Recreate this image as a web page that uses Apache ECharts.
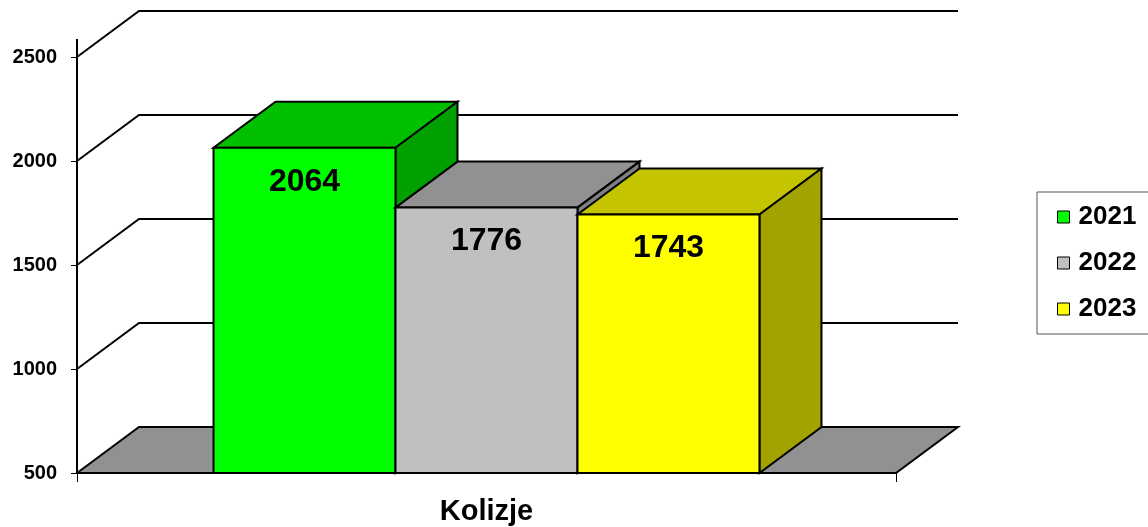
<!DOCTYPE html>
<html>
<head>
<meta charset="utf-8">
<script src="https://cdn.jsdelivr.net/npm/echarts@6/dist/echarts.min.js"></script>
<style>
  html, body { margin: 0; padding: 0; background: #fff; }
  #main { width: 1148px; height: 527px; }
</style>
</head>
<body>
<div id="main"></div>
<script>
// data
var categories = ['Kolizje'];
var years = ['2021', '2022', '2023'];
var values = [2064, 1776, 1743];
var yMin = 500, yMax = 2500, yStep = 500;
var wallTicks = [1000, 1500, 2000, 2500];

// faces: front / top / side
var faces = [
  { front: '#00ff00', top: '#00c000', side: '#00a000' },
  { front: '#c0c0c0', top: '#919191', side: '#808080' },
  { front: '#ffff00', top: '#c4c400', side: '#a3a300' }
];
var DX = 62, DY = -46;   // depth of the 3d box
var FONT = '"Liberation Sans", Arial, sans-serif';

var chart = echarts.init(document.getElementById('main'));

function frameItem(params, api) {
  var cs = params.coordSys;
  var xl = cs.x, xr = cs.x + cs.width;
  var yb = api.coord([0, yMin])[1];
  var kids = [];
  // floor
  kids.push({
    type: 'polygon',
    shape: { points: [[xl, yb], [xl + DX, yb + DY], [xr + DX, yb + DY], [xr, yb]] },
    style: { fill: '#919191', stroke: '#000', lineWidth: 2 }
  });
  // back wall grid lines
  wallTicks.forEach(function (t) {
    var y = api.coord([0, t])[1];
    kids.push({
      type: 'polyline',
      shape: { points: [[xl, y], [xl + DX, y + DY], [xr + DX, y + DY]] },
      style: { fill: null, stroke: '#000', lineWidth: 2 }
    });
  });
  // axis line sticks out above the top tick
  var yt = api.coord([0, yMax])[1];
  kids.push({
    type: 'line',
    shape: { x1: xl, y1: yt, x2: xl, y2: yt - 18 },
    style: { stroke: '#000', lineWidth: 2 }
  });
  return { type: 'group', children: kids };
}

function barItem(idx) {
  return function (params, api) {
    var v = api.value(1);
    var top = api.coord([api.value(0), v]);
    var base = api.coord([api.value(0), yMin]);
    var band = api.size([1, 0])[0];
    var w = band * 0.2222;
    var x0 = top[0] - 1.5 * w + idx * w, x1 = x0 + w;
    var yt = top[1], yb = base[1];
    var c = faces[idx];
    var lw = 2;
    return {
      type: 'group',
      children: [
        { type: 'polygon',
          shape: { points: [[x0, yt], [x1, yt], [x1 + DX, yt + DY], [x0 + DX, yt + DY]] },
          style: { fill: c.top, stroke: '#000', lineWidth: lw } },
        { type: 'polygon',
          shape: { points: [[x1, yt], [x1 + DX, yt + DY], [x1 + DX, yb + DY], [x1, yb]] },
          style: { fill: c.side, stroke: '#000', lineWidth: lw } },
        { type: 'rect',
          shape: { x: x0, y: yt, width: w, height: yb - yt },
          style: { fill: c.front, stroke: '#000', lineWidth: lw } },
        { type: 'text', x: (x0 + x1) / 2, y: yt + 34,
          style: { text: String(v), fill: '#000', font: 'bold 32px ' + FONT,
                   align: 'center', verticalAlign: 'middle' } }
      ]
    };
  };
}

var series = [{
  name: 'frame',
  type: 'custom',
  z: 1,
  silent: true,
  renderItem: frameItem,
  data: [[0, yMin]]
}];
years.forEach(function (y, i) {
  series.push({
    name: y,
    type: 'custom',
    z: 2,
    itemStyle: { color: faces[i].front },
    renderItem: barItem(i),
    data: [[0, values[i]]]
  });
});

var option = {
  animation: false,
  color: faces.map(function (f) { return f.front; }),
  grid: { left: 77, right: 252, top: 57, bottom: 54 },
  legend: {
    data: years,
    orient: 'vertical',
    left: 1037,
    top: 192,
    itemWidth: 12,
    itemHeight: 12,
    itemGap: 20,
    padding: [12, 20, 12, 20],
    borderColor: '#555',
    borderWidth: 1,
    icon: 'rect',
    itemStyle: { borderColor: '#000', borderWidth: 1 },
    textStyle: { fontSize: 26, fontWeight: 'bold', color: '#000',
                 fontFamily: FONT, lineHeight: 26, padding: [0, 0, 0, 4] }
  },
  xAxis: {
    type: 'category',
    data: categories,
    axisLine: { lineStyle: { color: '#000', width: 2 } },
    axisTick: { show: true, length: 9, lineStyle: { color: '#000', width: 1 } },
    axisLabel: { color: '#000', fontSize: 29, fontWeight: 'bold', fontFamily: FONT, margin: 24 }
  },
  yAxis: {
    type: 'value',
    min: yMin,
    max: yMax,
    interval: yStep,
    axisLine: { show: true, lineStyle: { color: '#000', width: 2 } },
    axisTick: { show: true, length: 6, lineStyle: { color: '#000', width: 1 } },
    splitLine: { show: false },
    axisLabel: { color: '#000', fontSize: 20, fontWeight: 'bold', fontFamily: FONT, margin: 20,
                 formatter: function (v) { return String(v); } }
  },
  series: series
};
chart.setOption(option);
</script>
</body>
</html>
